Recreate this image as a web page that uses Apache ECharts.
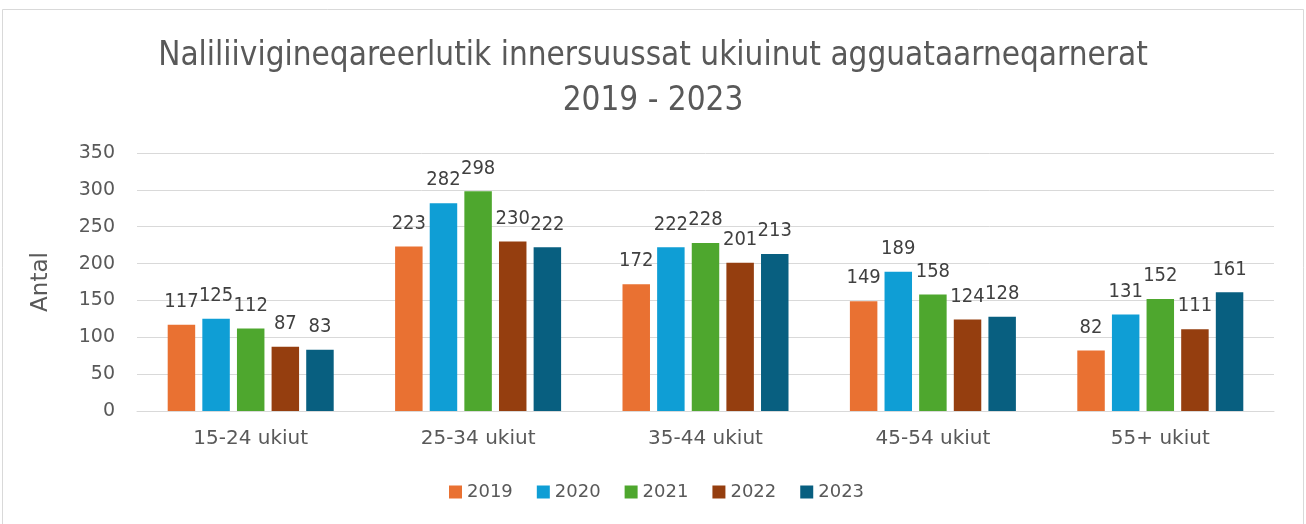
<!DOCTYPE html>
<html>
<head>
<meta charset="utf-8">
<script src="https://cdn.jsdelivr.net/npm/echarts@6/dist/echarts.min.js"></script>
<style>
  html, body { margin: 0; padding: 0; background: #fff; }
  #chart { width: 1306px; height: 524px; }
</style>
</head>
<body>
<div id="chart"></div>
<script>
// Age groups and yearly counts
const categories = ['15-24 ukiut', '25-34 ukiut', '35-44 ukiut', '45-54 ukiut', '55+ ukiut'];
const years = ['2019', '2020', '2021', '2022', '2023'];
const v2019 = [117, 223, 172, 149, 82];
const v2020 = [125, 282, 222, 189, 131];
const v2021 = [112, 298, 228, 158, 152];
const v2022 = [87, 230, 201, 124, 111];
const v2023 = [83, 222, 213, 128, 161];
const colors = ['#e97132', '#0f9ed5', '#4ea72e', '#953e0f', '#085f80'];

const seriesValues = [v2019, v2020, v2021, v2022, v2023];
const fontFam = '"DejaVu Sans", Verdana, sans-serif';
const condFam = '"DejaVu Sans Condensed", "DejaVu Sans", sans-serif';

const series = years.map((y, i) => ({
    name: y,
    type: 'bar',
    data: seriesValues[i],
    barGap: '26%',
    barCategoryGap: '27%',
    itemStyle: { color: colors[i] },
    label: {
        show: true,
        position: 'top',
        distance: 13,
        color: '#404040',
        fontSize: 20,
        fontFamily: condFam
    }
}));

const chart = echarts.init(document.getElementById('chart'));
chart.setOption({
    animation: false,
    backgroundColor: '#fff',
    title: {
        text: 'Naliliivigineqareerlutik innersuussat ukiuinut agguataarneqarnerat\n2019 - 2023',
        left: 'center',
        top: 29,
        textStyle: {
            color: '#595959',
            fontSize: 33,
            fontWeight: 'normal',
            fontFamily: condFam,
            lineHeight: 45
        }
    },
    legend: {
        bottom: 18,
        left: 444,
        icon: 'rect',
        itemWidth: 13,
        itemHeight: 13,
        itemGap: 24,
        textStyle: { color: '#595959', fontSize: 18, fontFamily: fontFam }
    },
    grid: { left: 137, right: 32, top: 153, bottom: 113 },
    xAxis: {
        type: 'category',
        data: categories,
        axisTick: { show: false },
        axisLine: { lineStyle: { color: '#d9d9d9', width: 1 } },
        axisLabel: { color: '#595959', fontSize: 20, fontFamily: fontFam, margin: 18 }
    },
    yAxis: {
        type: 'value',
        min: 0,
        max: 350,
        interval: 50,
        name: 'Antal',
        nameLocation: 'middle',
        nameGap: 84,
        nameTextStyle: { color: '#595959', fontSize: 23, fontFamily: fontFam },
        axisLine: { show: false },
        axisTick: { show: false },
        splitLine: { lineStyle: { color: '#d9d9d9', width: 1 } },
        axisLabel: { color: '#595959', fontSize: 19, fontFamily: fontFam, margin: 22 }
    },
    graphic: [{
        type: 'rect',
        shape: { x: 2.5, y: 9.5, width: 1301, height: 520 },
        style: { fill: 'none', stroke: '#d9d9d9', lineWidth: 1 },
        silent: true
    }],
    series: series
});
</script>
</body>
</html>
